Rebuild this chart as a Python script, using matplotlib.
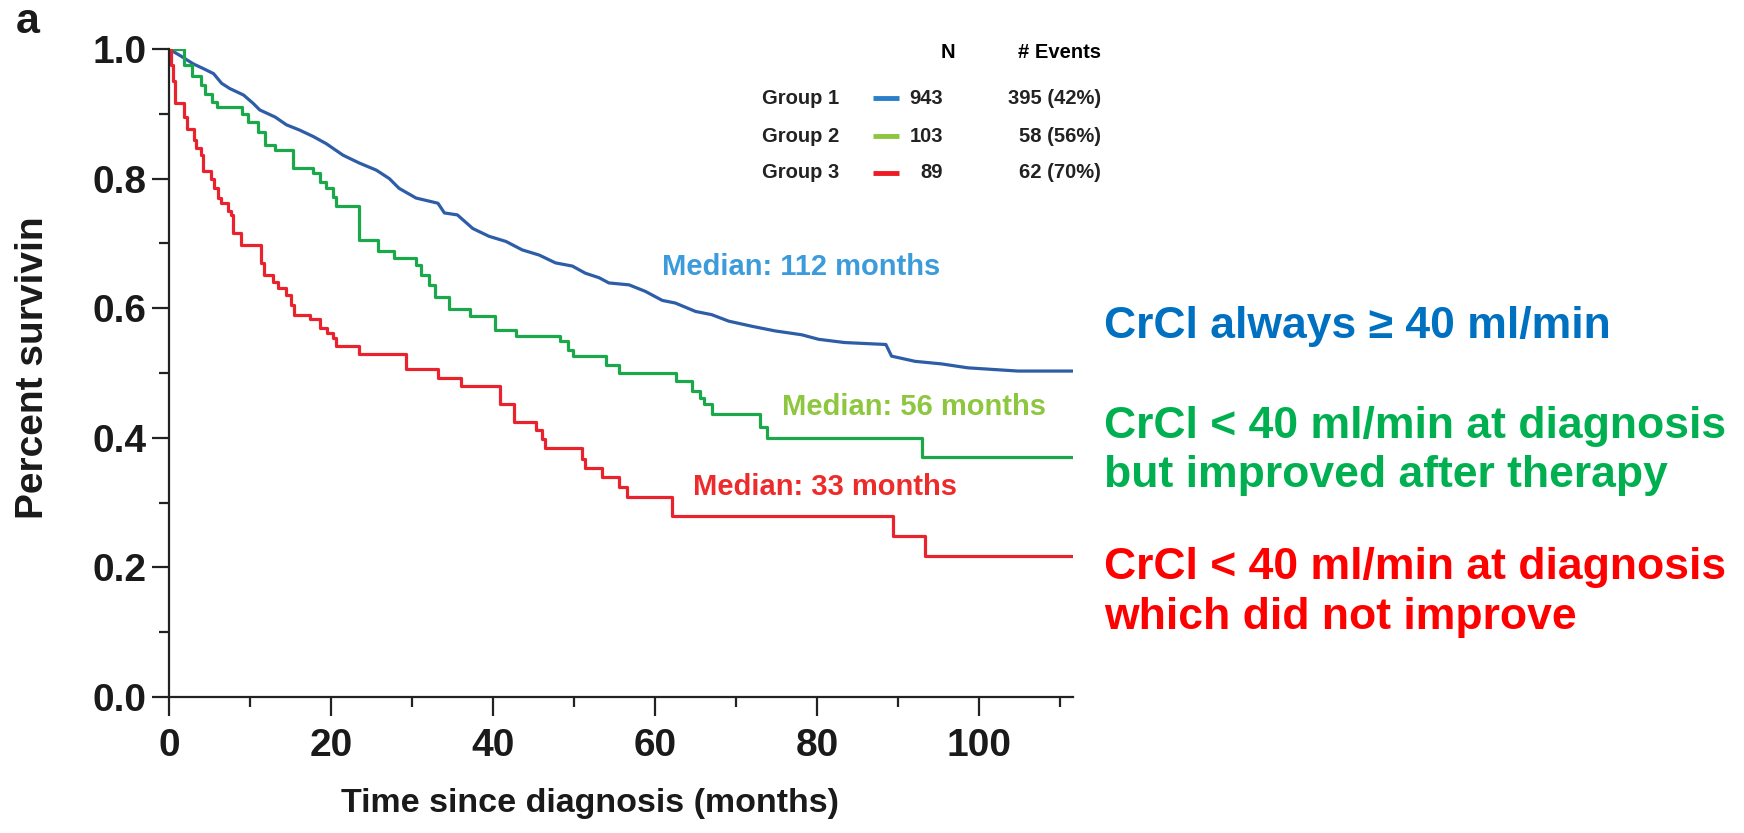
"""
Kaplan-Meier survival by CrCl group, redrawn from the published figure (panel a).
"""

import matplotlib

matplotlib.use("Agg")
import matplotlib.pyplot as plt
from matplotlib.lines import Line2D
from matplotlib.ticker import MultipleLocator

plt.rcParams["font.family"] = ["Liberation Sans", "DejaVu Sans"]
plt.rcParams["font.weight"] = "bold"

# --- data (months, survival after each step) ---
blue_t = [0, 1.35, 3.0, 4.2, 5.5, 6.5, 7.5, 9.2, 10.4, 11.2, 13.1, 14.5, 16.1, 17.8,
          19.4, 21.5, 23.5, 25.6, 27.2, 28.4, 30.5, 33.2, 34.0, 35.6, 37.5, 39.5,
          41.6, 43.6, 45.7, 47.7, 49.8, 51.4, 53.1, 54.3, 56.8, 58.8, 60.9, 62.5,
          65.0, 67.0, 69.1, 72.0, 74.8, 78.1, 80.2, 83.4, 88.5, 89.2, 92.1, 95.4,
          98.6, 104.8, 112]
blue_s = [1.0, 0.990, 0.977, 0.970, 0.962, 0.947, 0.939, 0.929, 0.916, 0.906, 0.895,
          0.883, 0.875, 0.865, 0.854, 0.836, 0.824, 0.813, 0.800, 0.785, 0.770, 0.762,
          0.747, 0.744, 0.723, 0.711, 0.703, 0.690, 0.682, 0.670, 0.665, 0.654, 0.647,
          0.639, 0.636, 0.626, 0.612, 0.608, 0.595, 0.590, 0.580, 0.572, 0.565, 0.559,
          0.552, 0.547, 0.544, 0.526, 0.518, 0.514, 0.508, 0.503, 0.503]

green_t = [0, 1.8, 2.8, 4.0, 4.4, 5.3, 5.9, 9.0, 9.8, 11.0, 11.8, 13.1, 15.3, 17.8,
           18.6, 19.4, 20.2, 20.6, 23.5, 25.8, 27.8, 30.5, 31.1, 32.1, 32.8, 34.6,
           37.1, 40.3, 42.8, 48.3, 49.3, 49.9, 53.9, 55.5, 62.6, 64.6, 65.5, 66.0,
           67.0, 73.0, 73.8, 92.9, 112]
green_s = [1.0, 0.975, 0.959, 0.944, 0.931, 0.918, 0.911, 0.900, 0.888, 0.872, 0.852,
           0.844, 0.816, 0.808, 0.795, 0.785, 0.772, 0.757, 0.706, 0.688, 0.677, 0.667,
           0.652, 0.636, 0.618, 0.598, 0.588, 0.567, 0.557, 0.549, 0.536, 0.526, 0.513,
           0.500, 0.488, 0.472, 0.462, 0.452, 0.436, 0.416, 0.400, 0.370, 0.370]

red_t = [0, 0.3, 0.5, 0.7, 1.9, 2.2, 3.1, 3.3, 4.0, 4.2, 5.2, 5.5, 6.1, 6.4, 7.3, 7.6,
         7.9, 8.9, 11.4, 11.7, 12.8, 13.4, 14.5, 15.0, 15.4, 17.4, 18.6, 19.5, 20.2,
         20.6, 23.5, 29.2, 33.2, 36.0, 40.9, 42.6, 45.3, 46.1, 46.4, 51.0, 51.4, 53.5,
         55.5, 56.6, 62.1, 89.4, 93.3, 112]
red_s = [1.0, 0.975, 0.950, 0.916, 0.895, 0.877, 0.860, 0.847, 0.836, 0.811, 0.800,
         0.785, 0.770, 0.762, 0.750, 0.744, 0.716, 0.698, 0.670, 0.652, 0.640, 0.631,
         0.621, 0.605, 0.590, 0.583, 0.570, 0.562, 0.554, 0.542, 0.529, 0.506, 0.493,
         0.480, 0.452, 0.424, 0.412, 0.398, 0.385, 0.367, 0.354, 0.339, 0.324, 0.308,
         0.280, 0.249, 0.218, 0.218]

groups = ["Group 1", "Group 2", "Group 3"]
n_patients = ["943", "103", "89"]
n_events = ["395 (42%)", "58 (56%)", "62 (70%)"]
medians = ["Median: 112 months", "Median: 56 months", "Median: 33 months"]
descriptions = [
    ["CrCl always \u2265 40 ml/min"],
    ["CrCl < 40 ml/min at diagnosis", "but improved after therapy"],
    ["CrCl < 40 ml/min at diagnosis", "which did not improve"],
]

curve_colors = ["#2E5DA8", "#1BA84A", "#E8232D"]
legend_colors = ["#2A7FC9", "#8CC63F", "#EC1C24"]
median_colors = ["#3B9BDB", "#8DC63F", "#EE2B2B"]
desc_colors = ["#0070C0", "#00B050", "#FF0000"]

W, H = 1744, 833
fig = plt.figure(figsize=(W / 100, H / 100), dpi=100)
ax = fig.add_axes([169 / W, 1 - 697 / H, 904 / W, 648 / H])

# group 1 has many tiny steps -> a plain line through the read points looks closest
ax.plot(blue_t, blue_s, color=curve_colors[0], linewidth=2.3)
ax.plot(green_t, green_s, drawstyle="steps-post", color=curve_colors[1], linewidth=2.3)
ax.plot(red_t, red_s, drawstyle="steps-post", color=curve_colors[2], linewidth=2.3)

ax.set_xlim(0, 111.6)
ax.set_ylim(0, 1.0)
ax.xaxis.set_major_locator(MultipleLocator(20))
ax.xaxis.set_minor_locator(MultipleLocator(10))
ax.yaxis.set_major_locator(MultipleLocator(0.2))
ax.yaxis.set_minor_locator(MultipleLocator(0.1))
ax.yaxis.set_major_formatter(plt.FuncFormatter(lambda v, p: f"{v:.1f}"))
for side in ["top", "right"]:
    ax.spines[side].set_visible(False)
for side in ["left", "bottom"]:
    ax.spines[side].set_linewidth(1.6)
    ax.spines[side].set_color("#222222")
ax.tick_params(axis="both", which="both", direction="out", width=1.6, color="#222222")
ax.tick_params(axis="y", which="major", length=12, pad=4, labelsize=28)
ax.tick_params(axis="y", which="minor", length=7)
ax.tick_params(axis="x", which="major", length=14, pad=8, labelsize=28)
ax.tick_params(axis="x", which="minor", length=7)
for lab in ax.get_xticklabels() + ax.get_yticklabels():
    lab.set_fontweight("bold")
    lab.set_color("#1a1a1a")

ax.set_xlabel("Time since diagnosis (months)", fontsize=24.5, fontweight="bold", color="#1a1a1a")
ax.xaxis.set_label_coords(0.466, -0.140)
ax.set_ylabel("Percent survivin", fontsize=28, fontweight="bold", color="#1a1a1a")
ax.yaxis.set_label_coords(-0.130, 0.508)

# median labels
ax.text(60.9, 0.664, medians[0], color=median_colors[0], fontsize=21, fontweight="bold", va="center")
ax.text(75.7, 0.448, medians[1], color=median_colors[1], fontsize=21, fontweight="bold", va="center")
ax.text(64.7, 0.324, medians[2], color=median_colors[2], fontsize=21, fontweight="bold", va="center")

# panel letter
fig.text(16 / W, 1 - 33 / H, "a", fontsize=31, fontweight="bold", color="#1a1a1a", va="baseline")

# N / events table
fs_tab = 14.5
fig.text(948 / W, 1 - 52 / H, "N", fontsize=fs_tab, fontweight="bold", ha="center", va="center")
fig.text(1101 / W, 1 - 52 / H, "# Events", fontsize=fs_tab, fontweight="bold", ha="right", va="center")
row_y = [98, 136, 173]
for i in range(3):
    yy = 1 - row_y[i] / H
    fig.text(762 / W, yy, groups[i], fontsize=fs_tab, fontweight="bold", va="center", color="#222222")
    fig.add_artist(Line2D([873 / W, 899 / W], [yy, yy], color=legend_colors[i], linewidth=3.5,
                          solid_capstyle="butt"))
    fig.text(943 / W, yy, n_patients[i], fontsize=fs_tab, fontweight="bold", ha="right", va="center",
             color="#222222")
    fig.text(1101 / W, yy, n_events[i], fontsize=fs_tab, fontweight="bold", ha="right", va="center",
             color="#222222")

# group descriptions on the right
line_y = [[326], [426, 476], [567, 617]]
for lines, ys, c in zip(descriptions, line_y, desc_colors):
    for txt, yy in zip(lines, ys):
        fig.text(1104 / W, 1 - yy / H, txt, fontsize=32, fontweight="bold", color=c, va="center")

fig.savefig("out.png", dpi=100)
